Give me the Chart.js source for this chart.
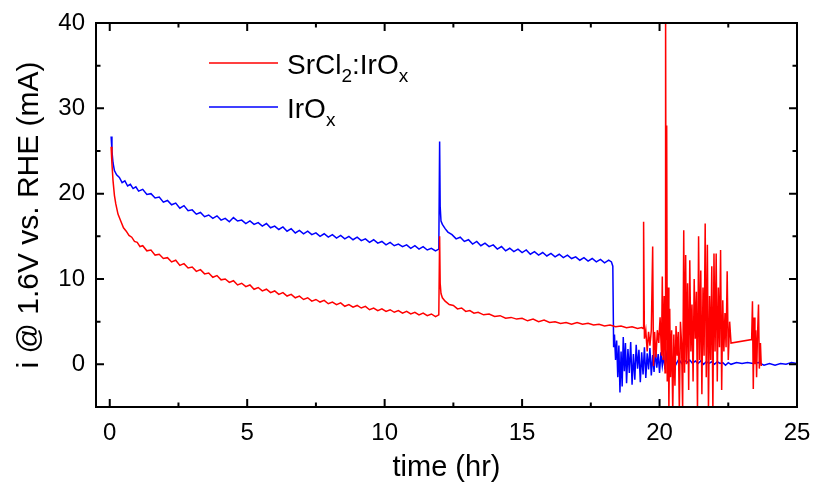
<!DOCTYPE html>
<html>
<head>
<meta charset="utf-8">
<script src="https://cdn.jsdelivr.net/npm/chart.js@4.4.1/dist/chart.umd.min.js"></script>
<style>
html,body{margin:0;padding:0;background:#fff;}
#wrap{width:815px;height:489px;position:relative;}
</style>
</head>
<body>
<div id="wrap"><canvas id="c" width="815" height="489"></canvas></div>
<script>
// ---- data ----
const xTickValues = [0, 5, 10, 15, 20, 25];
const xMinorValues = [2.5, 7.5, 12.5, 17.5, 22.5];
const yTickValues = [0, 10, 20, 30, 40];
const yMinorValues = [5, 15, 25, 35];

const seriesNames = ["SrCl2:IrOx", "IrOx"];

const blueTime = [
0.05,0.08,0.12,0.17,0.25,0.35,0.45,0.55,0.65,0.75,0.85,0.95,1.05,1.2,1.35,1.5,1.65,1.8,1.95,2.1,
2.25,2.4,2.55,2.7,2.85,3.0,3.15,3.3,3.45,3.6,3.75,3.9,4.05,4.2,4.35,4.5,4.65,4.8,4.95,5.1,
5.25,5.4,5.55,5.7,5.85,6.0,6.15,6.3,6.45,6.6,6.75,6.9,7.05,7.2,7.35,7.5,7.65,7.8,7.95,8.1,
8.25,8.4,8.55,8.7,8.85,9.0,9.15,9.3,9.45,9.6,9.75,9.9,10.05,10.2,10.35,10.5,10.65,10.8,10.95,11.1,
11.25,11.4,11.55,11.7,11.85,11.97,
12.0,12.02,12.05,12.1,12.2,12.3,12.45,12.6,12.75,12.9,13.05,13.2,13.35,13.5,13.65,13.8,13.95,14.1,14.25,14.4,
14.55,14.7,14.85,15.0,15.15,15.3,15.45,15.6,15.75,15.9,16.05,16.2,16.35,16.5,16.65,16.8,16.95,17.1,17.25,17.4,
17.55,17.7,17.85,18.0,18.15,18.25,18.3,
18.33,18.36,18.4,18.44,18.48,18.52,18.56,18.6,18.64,18.68,18.72,18.76,18.8,18.85,18.9,18.95,19.0,19.05,19.1,19.15,
19.2,19.25,19.3,19.35,19.4,19.45,19.5,19.55,19.6,19.65,19.7,19.75,19.8,19.85,19.9,19.95,20.0,20.05,20.1,20.15,
20.2,20.25,20.3,20.35,20.4,20.5,20.6,20.7,20.8,20.9,21.0,21.1,21.2,21.3,21.4,21.5,21.6,21.7,21.8,21.9,
22.0,22.1,22.2,22.3,22.4,22.5,22.6,22.8,23.0,23.2,23.4,23.6,23.8,24.0,24.2,24.4,24.6,24.8,25.0
];
const blueCurrent = [
26.7,25.0,23.6,22.7,22.2,21.9,21.3,21.5,20.9,21.1,20.6,20.8,20.3,20.5,19.9,20.0,19.5,19.6,19.0,19.2,
18.7,18.9,18.3,18.6,18.0,18.1,17.6,17.8,17.3,17.5,17.1,17.4,16.9,17.1,16.7,17.2,16.8,16.9,16.5,16.8,
16.4,16.6,16.2,16.5,16.0,16.2,15.8,16.1,15.6,15.9,15.4,15.7,15.3,15.6,15.2,15.4,15.0,15.3,14.9,15.2,
14.8,15.1,14.7,15.0,14.6,14.9,14.5,14.7,14.3,14.6,14.2,14.4,14.0,14.3,13.9,14.1,13.8,14.0,13.6,13.9,
13.5,13.8,13.4,13.6,13.3,13.5,
26.1,18.5,16.8,16.4,15.9,15.5,15.2,14.7,14.9,14.4,14.6,14.1,14.4,13.9,14.2,13.8,14.0,13.5,13.8,13.3,
13.6,13.2,13.5,13.1,13.4,12.9,13.2,12.8,13.1,12.7,13.0,12.6,12.9,12.5,12.8,12.4,12.6,12.2,12.5,12.1,
12.4,12.0,12.3,11.9,12.2,12.0,11.5,
2.0,3.5,0.5,2.8,-1.5,2.2,-3.3,1.5,-2.6,3.2,-0.8,2.5,-2.2,1.8,-1.0,2.6,-2.4,1.2,-1.8,2.3,
-0.5,1.7,-2.1,1.4,-1.2,2.0,-1.6,1.3,-0.6,1.9,-1.3,1.1,-0.9,1.6,-0.4,1.2,-1.0,1.4,-0.2,1.0,
-0.6,1.1,0.0,0.9,-0.3,0.8,0.0,0.6,0.1,0.5,0.2,0.5,0.1,0.4,0.1,0.4,0.0,0.3,0.1,0.3,
0.0,0.3,0.1,0.2,-0.1,0.2,0.0,0.2,0.1,0.2,0.1,0.2,-0.1,0.1,-0.1,0.1,0.0,0.2,0.1
];

const redTime = [
0.05,0.08,0.12,0.17,0.22,0.3,0.4,0.5,0.6,0.7,0.8,0.9,1.0,1.1,1.2,1.35,1.5,1.65,1.8,1.95,
2.1,2.25,2.4,2.55,2.7,2.85,3.0,3.15,3.3,3.45,3.6,3.75,3.9,4.05,4.2,4.35,4.5,4.65,4.8,4.95,
5.1,5.25,5.4,5.55,5.7,5.85,6.0,6.15,6.3,6.45,6.6,6.75,6.9,7.05,7.2,7.35,7.5,7.65,7.8,7.95,
8.1,8.25,8.4,8.55,8.7,8.85,9.0,9.15,9.3,9.45,9.6,9.75,9.9,10.05,10.2,10.35,10.5,10.65,10.8,10.95,
11.1,11.25,11.4,11.55,11.7,11.85,11.97,
12.0,12.02,12.05,12.1,12.2,12.35,12.5,12.65,12.8,12.95,13.1,13.25,13.4,13.6,13.8,14.0,14.2,14.4,14.6,14.8,
15.0,15.2,15.4,15.6,15.8,16.0,16.2,16.4,16.6,16.8,17.0,17.2,17.4,17.6,17.8,18.0,18.2,18.4,18.6,18.8,
19.0,19.2,19.35,
19.4,19.42,19.45,19.5,19.55,19.6,19.65,19.7,19.75,19.78,19.82,19.87,19.92,19.97,20.02,20.07,20.1,20.13,20.17,20.2,
20.22,20.24,20.26,20.28,20.31,20.34,20.37,20.4,20.44,20.48,20.52,20.56,20.6,20.64,20.68,20.72,20.76,20.8,20.84,20.88,
20.91,20.95,20.98,21.02,21.06,21.1,21.14,21.18,21.22,21.26,21.3,21.34,21.38,21.42,21.46,21.5,21.54,21.58,21.62,21.66,
21.7,21.74,21.78,21.82,21.86,21.9,21.94,21.98,22.02,22.06,22.1,22.14,22.18,22.22,22.26,22.3,22.34,22.38,22.42,22.46,
22.5,22.55,22.6,23.35,23.38,23.41,23.44,23.47,23.5,23.53,23.56,23.6,23.63,23.67,23.7
];
const redCurrent = [
25.5,23.5,21.5,19.8,18.8,17.6,16.8,16.0,15.6,15.1,14.9,14.4,14.3,13.8,13.9,13.3,13.4,12.8,12.9,12.4,
12.5,12.0,12.2,11.6,11.8,11.3,11.4,10.9,11.1,10.6,10.7,10.2,10.4,9.9,10.0,9.6,9.8,9.3,9.5,9.1,
9.3,8.8,9.0,8.6,8.8,8.4,8.6,8.2,8.4,8.0,8.2,7.8,8.0,7.6,7.8,7.4,7.6,7.3,7.5,7.1,
7.3,7.0,7.2,6.8,7.0,6.7,6.9,6.6,6.8,6.4,6.6,6.3,6.5,6.2,6.4,6.1,6.3,6.0,6.2,5.9,
6.1,5.8,6.0,5.7,5.9,5.6,5.8,
15.0,9.5,8.3,7.8,7.4,7.0,6.9,6.5,6.6,6.2,6.3,6.0,6.1,5.8,5.9,5.6,5.7,5.4,5.5,5.3,
5.4,5.1,5.3,5.0,5.2,4.9,5.0,4.8,4.9,4.7,4.9,4.7,4.8,4.6,4.7,4.5,4.6,4.4,4.5,4.3,
4.4,4.2,4.3,
4.2,16.7,3.0,4.0,1.5,3.8,2.2,4.0,13.8,-0.2,3.8,0.8,4.0,2.5,5.5,1.0,10.3,0.5,8.0,-1.0,
42,3.0,28,-2.0,9.0,-5.5,6.5,-1.5,4.0,-5.5,3.5,-2.5,4.5,1.0,3.8,-5.5,5.0,2.5,-5.5,15.7,
-1.0,12.8,0.0,9.5,-3.0,12.2,1.5,7.0,-2.0,10.0,3.0,8.5,-5.5,15.0,0.5,11.0,-3.5,9.0,1.0,16.5,
-1.5,14.0,-5.5,8.0,0.5,11.5,-5.5,13.0,1.5,13.0,-2.0,9.0,2.0,13.4,-3.0,7.5,1.5,6.0,2.0,10.9,
0.5,5.0,2.5,2.9,7.4,-2.9,5.5,0.0,4.0,-1.5,3.0,7.0,-0.5,2.5,-0.2
];

// ---- chart ----
const redPoints = redTime.map((t, i) => ({x: t, y: redCurrent[i]}));
const bluePoints = blueTime.map((t, i) => ({x: t, y: blueCurrent[i]}));

const FONT = "'Liberation Sans', Arial, sans-serif";

const framePlugin = {
  id: 'frame',
  afterDatasetsDraw(chart) {
    const {ctx, chartArea: a, scales: {x, y}} = chart;
    ctx.save();
    ctx.strokeStyle = '#000';
    ctx.lineWidth = 2;
    ctx.beginPath();
    const maj = 8, mnr = 4.5;
    xTickValues.forEach(v => {
      const px = x.getPixelForValue(v);
      ctx.moveTo(px, a.bottom); ctx.lineTo(px, a.bottom - maj);
      ctx.moveTo(px, a.top); ctx.lineTo(px, a.top + maj);
    });
    xMinorValues.forEach(v => {
      const px = x.getPixelForValue(v);
      ctx.moveTo(px, a.bottom); ctx.lineTo(px, a.bottom - mnr);
      ctx.moveTo(px, a.top); ctx.lineTo(px, a.top + mnr);
    });
    yTickValues.forEach(v => {
      const py = y.getPixelForValue(v);
      ctx.moveTo(a.left, py); ctx.lineTo(a.left + maj, py);
      ctx.moveTo(a.right, py); ctx.lineTo(a.right - maj, py);
    });
    yMinorValues.forEach(v => {
      const py = y.getPixelForValue(v);
      ctx.moveTo(a.left, py); ctx.lineTo(a.left + mnr, py);
      ctx.moveTo(a.right, py); ctx.lineTo(a.right - mnr, py);
    });
    ctx.stroke();
    ctx.strokeRect(a.left, a.top, a.right - a.left, a.bottom - a.top);

    // legend
    const entries = [
      {color: 'rgb(255,0,0)', y: 63, parts: [['SrCl', false], ['2', true], [':IrO', false], ['x', true]]},
      {color: 'rgb(0,0,255)', y: 107, parts: [['IrO', false], ['x', true]]}
    ];
    entries.forEach(e => {
      ctx.strokeStyle = e.color;
      ctx.lineWidth = 1.5;
      ctx.beginPath();
      ctx.moveTo(209, e.y); ctx.lineTo(278, e.y);
      ctx.stroke();
      let tx = 287;
      const base = e.y + 11;
      ctx.fillStyle = '#000';
      ctx.textBaseline = 'alphabetic';
      ctx.textAlign = 'left';
      e.parts.forEach(([s, sub]) => {
        ctx.font = (sub ? '19px ' : '28px ') + FONT;
        ctx.fillText(s, tx, sub ? base + 8 : base);
        tx += ctx.measureText(s).width;
      });
    });
    ctx.restore();
  }
};

new Chart(document.getElementById('c'), {
  type: 'line',
  data: {
    datasets: [
      {label: seriesNames[0], data: redPoints, borderColor: 'rgb(255,0,0)', borderWidth: 1.5, pointRadius: 0, tension: 0, clip: 0},
      {label: seriesNames[1], data: bluePoints, borderColor: 'rgb(0,0,255)', borderWidth: 1.5, pointRadius: 0, tension: 0, clip: 0}
    ]
  },
  options: {
    responsive: false,
    animation: false,
    events: [],
    layout: {padding: {top: 23, right: 18, left: 0, bottom: 0}},
    plugins: {legend: {display: false}, tooltip: {enabled: false}},
    scales: {
      x: {
        type: 'linear', min: -0.5, max: 25,
        afterBuildTicks: ax => { ax.ticks = xTickValues.map(v => ({value: v})); },
        afterFit: ax => { ax.height = 82; ax.paddingLeft = 0; ax.paddingRight = 0; },
        grid: {display: false, drawTicks: false},
        border: {display: false},
        ticks: {color: '#000', font: {family: FONT, size: 24}, padding: 12, maxRotation: 0, autoSkip: false},
        title: {display: true, text: 'time (hr)', color: '#000', font: {family: FONT, size: 29}, padding: {top: 0, bottom: 4}}
      },
      y: {
        type: 'linear', min: -5, max: 40,
        afterBuildTicks: ax => { ax.ticks = yTickValues.map(v => ({value: v})); },
        afterFit: ax => { ax.width = 96; ax.paddingTop = 0; ax.paddingBottom = 0; },
        grid: {display: false, drawTicks: false},
        border: {display: false},
        ticks: {color: '#000', font: {family: FONT, size: 24}, padding: 11, autoSkip: false},
        title: {display: true, text: 'i @ 1.6V vs. RHE (mA)', color: '#000', font: {family: FONT, size: 30}, padding: {top: 12, bottom: 0}}
      }
    }
  },
  plugins: [framePlugin]
});
</script>
</body>
</html>
